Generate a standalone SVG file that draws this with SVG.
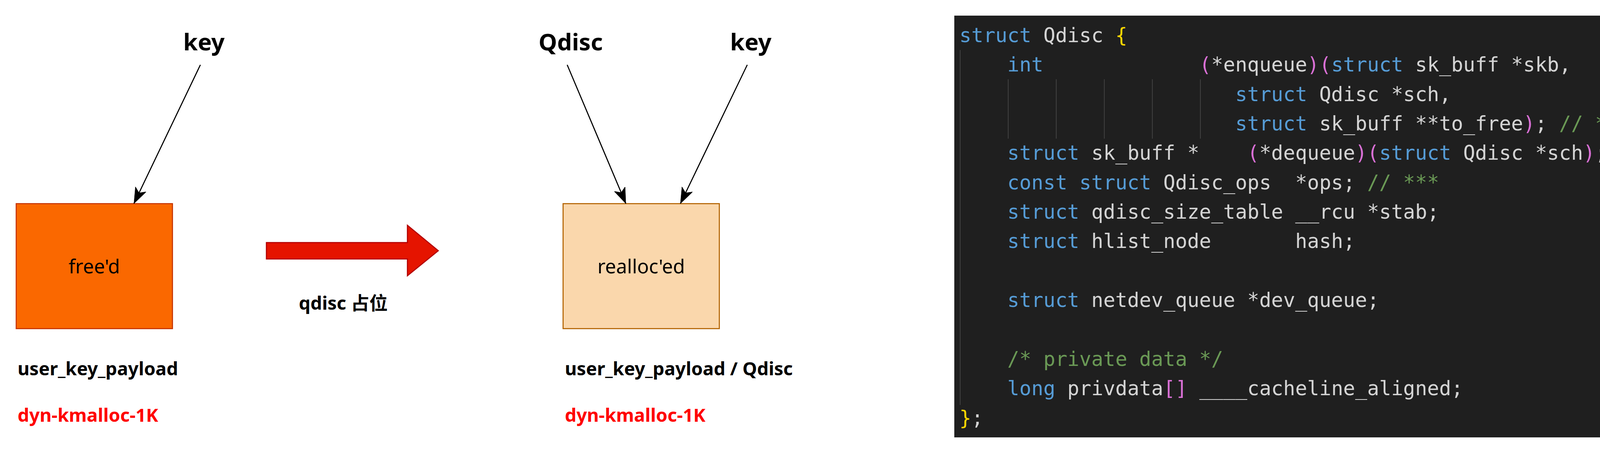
<svg xmlns="http://www.w3.org/2000/svg" width="4312" height="1160" viewBox="0 0 4312 1160">
  <defs>
    <marker id="arrow" markerUnits="userSpaceOnUse" markerWidth="42" markerHeight="32" refX="40" refY="15" orient="auto" viewBox="0 0 42 32">
      <path d="M 0 0 L 40 15 L 0 30 L 10 15 Z" fill="#000000" stroke="#000000" stroke-width="1"/>
    </marker>
    <style>
      .lbl { font-family: "Noto Sans", "Noto Sans CJK SC", sans-serif; fill: #000000; }
      .b { font-weight: bold; }
      .red { fill: #ff0000; }
      .box-text { font-family: "Noto Sans", sans-serif; font-size: 50px; fill: #000000; text-anchor: middle; }
      .edge { fill: none; stroke: #000000; stroke-width: 2.75; marker-end: url(#arrow); }
      .code { font-family: "DejaVu Sans Mono", "Liberation Mono", monospace; font-size: 51px; fill: #d4d4d4; }
      .k { fill: #569cd6; }
      .p { fill: #da70d6; }
      .g { fill: #ffd700; }
      .c { fill: #6a9955; }
      .guide { stroke: #404040; stroke-width: 2; }
    </style>
  </defs>
  <rect x="0" y="0" width="4312" height="1160" fill="#ffffff"/>

  <!-- Left: free'd state -->
  <g id="node-key-left">
    <text class="lbl b" x="522" y="129" font-size="60" text-anchor="middle">key</text>
  </g>
  <g id="node-freed">
    <rect x="41.5" y="521.5" width="400" height="320" fill="#fa6800" stroke="#c73500" stroke-width="2.75"/>
    <text class="box-text" x="241.5" y="700">free'd</text>
  </g>
  <g id="node-label-left">
    <text class="lbl b" x="45" y="961" font-size="47">user_key_payload</text>
    <text class="lbl b red" x="45" y="1080" font-size="47">dyn-kmalloc-1K</text>
  </g>

  <!-- Transition arrow -->
  <g id="node-transition">
    <polygon points="682,621 1043,621 1043,577 1122,642 1043,706 1043,663 682,663" fill="#e51400" stroke="#b20000" stroke-width="2.75"/>
    <text class="lbl b" x="765" y="793" font-size="47">qdisc 占位</text>
  </g>

  <!-- Right: realloc'ed state -->
  <g id="node-qdisc">
    <text class="lbl b" x="1461" y="129" font-size="60" text-anchor="middle">Qdisc</text>
  </g>
  <g id="node-key-right">
    <text class="lbl b" x="1922" y="129" font-size="60" text-anchor="middle">key</text>
  </g>
  <g id="node-realloced">
    <rect x="1441.5" y="521.5" width="400" height="320" fill="#fad7ac" stroke="#b46504" stroke-width="2.75"/>
    <text class="box-text" x="1641.5" y="700">realloc'ed</text>
  </g>
  <g id="node-label-right">
    <text class="lbl b" x="1446" y="961" font-size="47">user_key_payload / Qdisc</text>
    <text class="lbl b red" x="1446" y="1080" font-size="47">dyn-kmalloc-1K</text>
  </g>

  <!-- Connectors -->
  <g id="connectors">
    <line class="edge" x1="513" y1="166" x2="343" y2="521"/>
    <line class="edge" x1="1452" y1="166" x2="1602" y2="521"/>
    <line class="edge" x1="1913" y1="166" x2="1742" y2="521"/>
  </g>

  <!-- Code panel -->
  <g id="node-code">
    <rect x="2443" y="40" width="1825" height="1080" fill="#1f1f1f"/>
    <line class="guide" x1="2458" y1="128" x2="2458" y2="1037"/>
    <line class="guide" x1="2581" y1="203" x2="2581" y2="355"/>
    <line class="guide" x1="2704" y1="203" x2="2704" y2="355"/>
    <line class="guide" x1="2827" y1="203" x2="2827" y2="355"/>
    <line class="guide" x1="2950" y1="203" x2="2950" y2="355"/>
    <line class="guide" x1="3073" y1="203" x2="3073" y2="355"/>
    <text class="code" xml:space="preserve" x="2456" y="107.5"><tspan class="k">struct</tspan> Qdisc <tspan class="g">{</tspan></text>
    <text class="code" xml:space="preserve" x="2456" y="183">    <tspan class="k">int</tspan>             <tspan class="p">(</tspan>*enqueue<tspan class="p">)(</tspan><tspan class="k">struct</tspan> sk_buff *skb,</text>
    <text class="code" xml:space="preserve" x="2456" y="258.5">                       <tspan class="k">struct</tspan> Qdisc *sch,</text>
    <text class="code" xml:space="preserve" x="2456" y="334">                       <tspan class="k">struct</tspan> sk_buff **to_free<tspan class="p">)</tspan>; <tspan class="c">// ***</tspan></text>
    <text class="code" xml:space="preserve" x="2456" y="409">    <tspan class="k">struct</tspan> sk_buff *    <tspan class="p">(</tspan>*dequeue<tspan class="p">)(</tspan><tspan class="k">struct</tspan> Qdisc *sch<tspan class="p">)</tspan>;</text>
    <text class="code" xml:space="preserve" x="2456" y="484.5">    <tspan class="k">const struct</tspan> Qdisc_ops  *ops; <tspan class="c">// ***</tspan></text>
    <text class="code" xml:space="preserve" x="2456" y="560">    <tspan class="k">struct</tspan> qdisc_size_table __rcu *stab;</text>
    <text class="code" xml:space="preserve" x="2456" y="635">    <tspan class="k">struct</tspan> hlist_node       hash;</text>
    <text class="code" xml:space="preserve" x="2456" y="786">    <tspan class="k">struct</tspan> netdev_queue *dev_queue;</text>
    <text class="code" xml:space="preserve" x="2456" y="937">    <tspan class="c">/* private data */</tspan></text>
    <text class="code" xml:space="preserve" x="2456" y="1012">    <tspan class="k">long</tspan> privdata<tspan class="p">[]</tspan> ____cacheline_aligned;</text>
    <text class="code" xml:space="preserve" x="2456" y="1088"><tspan class="g">}</tspan>;</text>
  </g>
</svg>
